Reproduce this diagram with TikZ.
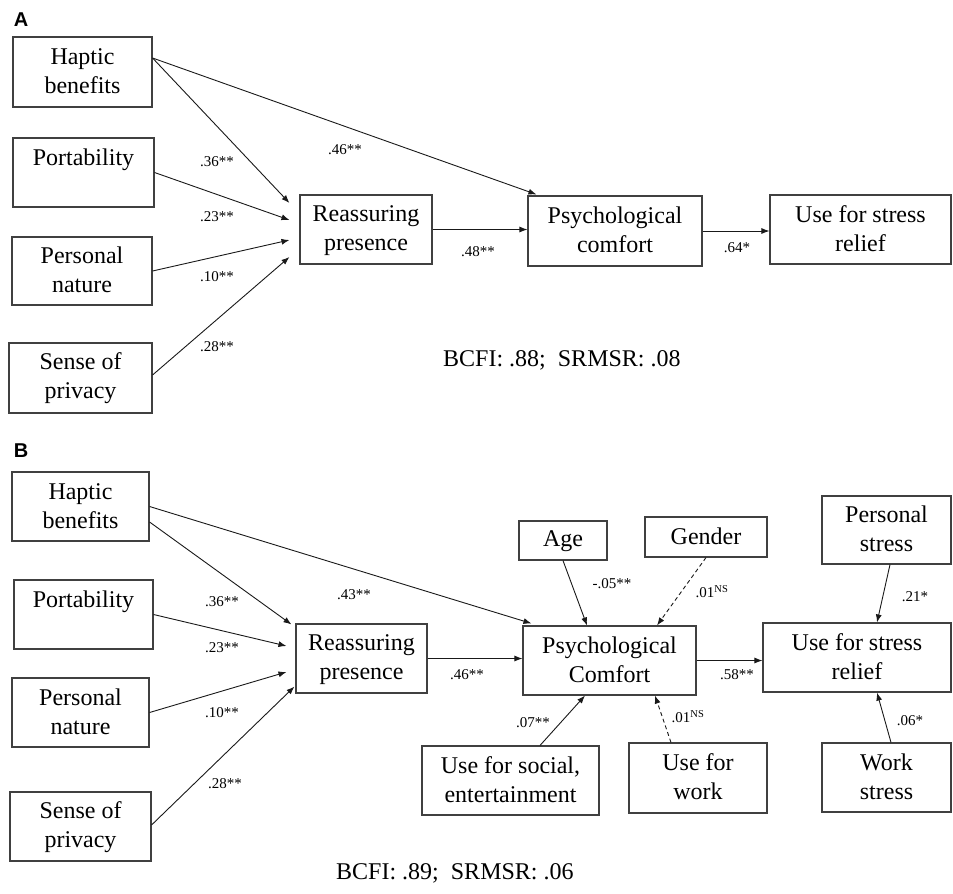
\documentclass[tikz,border=0pt]{standalone}
\usepackage{fontspec}
\setmainfont{Liberation Serif}
\newfontfamily\panelfont{Liberation Sans}
\usetikzlibrary{arrows.meta}
\newcommand\bstrut{\rule[-4pt]{0pt}{22pt}}
\tikzset{
  box/.style={draw=black!75, line width=1.1pt, rectangle, inner sep=0pt, align=center,
    font=\fontsize{24}{29}\selectfont},
  arr/.style={draw=black!90, line width=0.9pt, -{Latex[length=8pt,width=6pt]}},
  dsh/.style={arr, dash pattern=on 4pt off 3pt},
  lbl/.style={inner sep=0pt, font=\fontsize{15}{18}\selectfont},
  fit/.style={inner sep=0pt, font=\fontsize{24}{29}\selectfont},
  panel/.style={inner sep=0pt, font=\panelfont\bfseries\fontsize{20}{24}\selectfont}
}
\begin{document}
\begin{tikzpicture}[x=1pt,y=-1pt]
\useasboundingbox (0,0) rectangle (953,894);
% ---------------- Panel A ----------------
\node[panel] (pA) at (21,20) {A};
\node[box, minimum width=139, minimum height=70] (hbA) at (82.5,72) {\bstrut Haptic\\\bstrut benefits};
\node[box, minimum width=141, minimum height=69] (poA) at (83.5,172.5) {\bstrut Portability\\\bstrut};
\node[box, minimum width=140, minimum height=68] (pnA) at (82,271) {\bstrut Personal\\\bstrut nature};
\node[box, minimum width=143, minimum height=70] (spA) at (80.5,378) {\bstrut Sense of\\\bstrut privacy};
\node[box, minimum width=132, minimum height=69] (rpA) at (366,229.5) {\bstrut Reassuring\\\bstrut presence};
\node[box, minimum width=174, minimum height=70] (pcA) at (615,231) {\bstrut Psychological\\\bstrut comfort};
\node[box, minimum width=181, minimum height=69] (usA) at (860.5,229.5) {\bstrut Use for stress\\\bstrut relief};

\draw[arr] ([shift={(0,-14)}]hbA.east) -- ([shift={(-10,-26.5)}]rpA.west);
\draw[arr] ([shift={(0,-14)}]hbA.east) -- ([shift={(9,-1)}]pcA.north west);
\draw[arr] (poA.east) -- ([shift={(-10,-9.5)}]rpA.west);
\draw[arr] (pnA.east) -- ([shift={(-10,10.5)}]rpA.west);
\draw[arr] ([shift={(0,-3)}]spA.east) -- ([shift={(-10,27.5)}]rpA.west);
\draw[arr] (rpA.east) -- (pcA.west |- rpA.east);
\draw[arr] (pcA.east) -- (usA.west |- pcA.east);

\node[lbl] (lA1) at (217,162) {.36**};
\node[lbl] (lA2) at (217,217) {.23**};
\node[lbl] (lA3) at (217,277) {.10**};
\node[lbl] (lA4) at (217,347) {.28**};
\node[lbl] (lA5) at (345,150) {.46**};
\node[lbl] (lA6) at (478,252) {.48**};
\node[lbl] (lA7) at (737,248) {.64*};
\node[fit, anchor=base west] (fitA) at (443,366) {BCFI: .88;\ \ SRMSR: .08};

% ---------------- Panel B ----------------
\node[panel] (pB) at (21,451) {B};
\node[box, minimum width=137, minimum height=69] (hbB) at (80.5,506.5) {\bstrut Haptic\\\bstrut benefits};
\node[box, minimum width=139, minimum height=69] (poB) at (83.5,614.5) {\bstrut Portability\\\bstrut};
\node[box, minimum width=137, minimum height=69] (pnB) at (80.5,712.5) {\bstrut Personal\\\bstrut nature};
\node[box, minimum width=141, minimum height=69] (spB) at (80.5,826.5) {\bstrut Sense of\\\bstrut privacy};
\node[box, minimum width=131, minimum height=69] (rpB) at (361.5,658.5) {\bstrut Reassuring\\\bstrut presence};
\node[box, minimum width=173, minimum height=69] (pcB) at (609.5,660.5) {\bstrut Psychological\\\bstrut Comfort};
\node[box, minimum width=188, minimum height=69] (usB) at (857,657.5) {\bstrut Use for stress\\\bstrut relief};
\node[box, minimum width=88, minimum height=39] (age) at (563,540.5) {\bstrut Age};
\node[box, minimum width=122, minimum height=40] (gen) at (706,537) {\bstrut Gender};
\node[box, minimum width=129, minimum height=68] (psB) at (886.5,530) {\bstrut Personal\\\bstrut stress};
\node[box, minimum width=129, minimum height=69] (wsB) at (886.5,777.5) {\bstrut Work\\\bstrut stress};
\node[box, minimum width=177, minimum height=69] (soc) at (510.5,780.5) {\bstrut Use for social,\\\bstrut entertainment};
\node[box, minimum width=138, minimum height=70] (wrk) at (698,778) {\bstrut Use for\\\bstrut work};

\draw[arr] ([shift={(0,15.5)}]hbB.east) -- ([shift={(-4,1)}]rpB.north west);
\draw[arr] (hbB.east) -- ([shift={(9,-2)}]pcB.north west);
\draw[arr] (poB.east) -- ([shift={(-9,-12.5)}]rpB.west);
\draw[arr] (pnB.east) -- ([shift={(-9,13.5)}]rpB.west);
\draw[arr] ([shift={(0,-1.5)}]spB.east) -- ([shift={(-1,-7)}]rpB.south west);
\draw[arr] (rpB.east) -- (pcB.west |- rpB.east);
\draw[arr] (age.south) -- ([shift={(-22.5,0)}]pcB.north);
\draw[dsh] (gen.south) -- ([shift={(47.5,0)}]pcB.north);
\draw[arr] (pcB.east) -- (usB.west |- pcB.east);
\draw[arr] ([shift={(3.5,0)}]psB.south) -- ([shift={(20,0)}]usB.north);
\draw[arr] ([shift={(4.5,0)}]wsB.north) -- ([shift={(20,0)}]usB.south);
\draw[arr] ([shift={(29.5,0)}]soc.north) -- ([shift={(-24.5,0)}]pcB.south);
\draw[dsh] ([shift={(-27,0)}]wrk.north) -- ([shift={(45.5,0)}]pcB.south);

\node[lbl] (lB1) at (222,602) {.36**};
\node[lbl] (lB2) at (222,648) {.23**};
\node[lbl] (lB3) at (222,713) {.10**};
\node[lbl] (lB4) at (225,784) {.28**};
\node[lbl] (lB5) at (354,595) {.43**};
\node[lbl] (lB6) at (612,584) {-.05**};
\node[lbl] (lB7) at (712,592) {.01\textsuperscript{NS}};
\node[lbl] (lB8) at (467,675) {.46**};
\node[lbl] (lB9) at (737,675) {.58**};
\node[lbl] (lB10) at (915,597) {.21*};
\node[lbl] (lB11) at (910,721) {.06*};
\node[lbl] (lB12) at (533,723) {.07**};
\node[lbl] (lB13) at (688,717) {.01\textsuperscript{NS}};
\node[fit, anchor=base west] (fitB) at (336,879) {BCFI: .89;\ \ SRMSR: .06};
\end{tikzpicture}
\end{document}
